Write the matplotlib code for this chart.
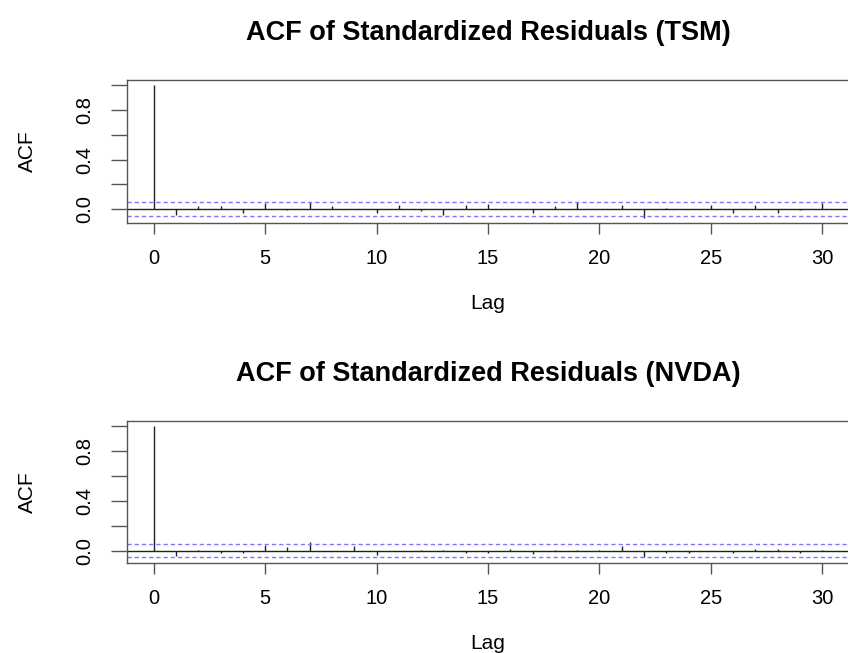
import numpy as np
import matplotlib
matplotlib.use('Agg')
import matplotlib.pyplot as plt

plt.rcParams['font.family'] = ['Liberation Sans', 'DejaVu Sans']

# lags 0..30
lags = list(range(31))

# ACF of standardized residuals
acf_tsm = [1.0, -0.045, 0.024, 0.024, -0.032, 0.048, -0.004, 0.058, 0.024, 0.004,
           -0.032, 0.032, -0.012, -0.046, 0.029, 0.043, 0.001, -0.036, 0.022, 0.056,
           0.004, 0.029, -0.07, 0.007, 0.004, 0.029, -0.028, 0.029, -0.03, -0.004,
           0.048]
acf_nvda = [1.0, -0.04, 0.001, -0.02, -0.02, 0.048, 0.025, 0.066, -0.005, 0.035,
            -0.035, -0.005, 0.001, 0.001, -0.017, -0.022, 0.015, -0.031, 0.005, 0.005,
            0.005, 0.041, -0.055, -0.017, -0.016, -0.005, -0.016, 0.016, 0.016, -0.018,
            0.001]

# 95% confidence bounds
ci_tsm = 0.053
ci_nvda = 0.055

titles = ['ACF of Standardized Residuals (TSM)', 'ACF of Standardized Residuals (NVDA)']

fig = plt.figure(figsize=(8.48, 6.53), dpi=100)

boxes = [[0.1498, 0.6585, 0.8514, 0.2190],
         [0.1498, 0.1383, 0.8514, 0.2170]]
frame_col = '#555555'

for box, acf, ci, title in zip(boxes, [acf_tsm, acf_nvda], [ci_tsm, ci_nvda], titles):
    ax = fig.add_axes(box)
    acf = np.array(acf)
    ax.vlines(lags, 0, acf, color='#222222', lw=1.0)
    ax.axhline(0, color='#222222', lw=1.0)
    ax.axhline(ci, color='#7777ff', lw=1.0, ls=(0, (3, 2.2)))
    ax.axhline(-ci, color='#7777ff', lw=1.0, ls=(0, (3, 2.2)))

    # R style ranges with 4% padding
    lo = min(acf.min(), -ci)
    hi = max(acf.max(), ci)
    pad = 0.04 * (hi - lo)
    ax.set_ylim(lo - pad, hi + pad)
    ax.set_xlim(-1.2, 31.2)

    ax.set_xticks(range(0, 31, 5))
    ax.set_yticks([0.0, 0.2, 0.4, 0.6, 0.8, 1.0])
    ax.set_yticklabels(['0.0', '', '0.4', '', '0.8', ''], rotation=90, va='center')
    ax.tick_params(axis='x', length=8, width=1, color=frame_col, labelsize=14.5, pad=11)
    ax.tick_params(axis='y', length=11.5, width=1, color=frame_col, labelsize=14.5, pad=12)
    for s in ax.spines.values():
        s.set_color(frame_col)
        s.set_linewidth(1.0)

    ax.set_xlabel('Lag', fontsize=15, labelpad=18.5)
    ax.set_ylabel('ACF', fontsize=15, labelpad=28)
    ax.set_title(title, fontsize=19.5, fontweight='bold', pad=29)

plt.savefig('out.png', dpi=100)
